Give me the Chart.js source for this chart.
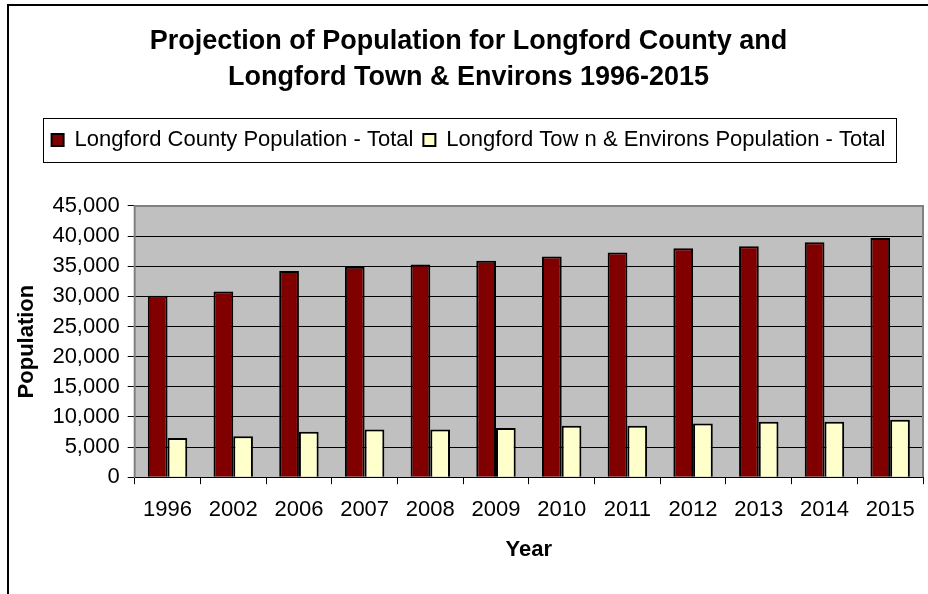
<!DOCTYPE html>
<html>
<head>
<meta charset="utf-8">
<script src="https://cdn.jsdelivr.net/npm/chart.js@4.4.1/dist/chart.umd.min.js"></script>
<style>
  html, body { margin: 0; padding: 0; background: #fff; }
  #frame { position: absolute; left: 7px; top: 4px; width: 940px; height: 610px;
           border-top: 2px solid #000; border-left: 2px solid #000; }
  #wrap { position: absolute; left: 0; top: 0; width: 928px; height: 594px; }
</style>
</head>
<body>
<div id="frame"></div>
<div id="wrap"><canvas id="myChart" width="928" height="594"></canvas></div>
<script>
const years = ['1996', '2002', '2006', '2007', '2008', '2009', '2010', '2011', '2012', '2013', '2014', '2015'];
const countyTotal = [30100, 30800, 34200, 34900, 35300, 35900, 36600, 37300, 38000, 38300, 39000, 39700];
const townTotal = [6500, 6800, 7550, 7900, 7900, 8150, 8550, 8550, 8900, 9200, 9200, 9550];

const FONT = "'Liberation Sans', Arial, sans-serif";

// grey plot background + frame, and the box round the legend
const plotStyle = {
  id: 'plotStyle',
  beforeInit(chart) {
    // leave some room under the legend, like the original
    const fit = chart.legend.fit;
    chart.legend.fit = function () {
      fit.call(chart.legend);
      this.height += 45;
    };
  },
  beforeDraw(chart) {
    const a = chart.chartArea;
    const ctx = chart.ctx;
    ctx.save();
    ctx.fillStyle = '#c0c0c0';
    ctx.fillRect(a.left, a.top, a.right - a.left, a.bottom - a.top);
    ctx.restore();
  },
  afterDraw(chart) {
    const a = chart.chartArea;
    const ctx = chart.ctx;
    ctx.save();
    ctx.strokeStyle = '#808080';
    ctx.lineWidth = 2;
    ctx.beginPath();
    ctx.moveTo(a.left, a.bottom);
    ctx.lineTo(a.left, a.top);
    ctx.lineTo(a.right, a.top);
    ctx.lineTo(a.right, a.bottom);
    ctx.stroke();
    // legend box
    const hb = chart.legend.legendHitBoxes;
    if (hb && hb.length) {
      const x0 = hb[0].left - 9;
      const last = hb[hb.length - 1];
      const x1 = last.left + last.width + 10;
      const y0 = hb[0].top - 11;
      const y1 = hb[0].top + hb[0].height + 11;
      ctx.strokeStyle = '#000';
      ctx.lineWidth = 1;
      ctx.strokeRect(Math.round(x0) + 0.5, Math.round(y0) + 0.5, Math.round(x1 - x0), Math.round(y1 - y0));
    }
    ctx.restore();
  }
};

var ctx = document.getElementById('myChart').getContext('2d');
var chart = new Chart(ctx, {
  type: 'bar',
  data: {
    labels: years,
    datasets: [
      {
        label: 'Longford County Population - Total',
        data: countyTotal,
        backgroundColor: '#800000',
        borderColor: '#000',
        borderWidth: 2,
        categoryPercentage: 0.6,
        barPercentage: 1
      },
      {
        label: 'Longford Tow n & Environs Population - Total',
        data: townTotal,
        backgroundColor: '#ffffcc',
        borderColor: '#000',
        borderWidth: 2,
        categoryPercentage: 0.6,
        barPercentage: 1
      }
    ]
  },
  options: {
    responsive: false,
    animation: false,
    layout: { padding: { left: 14, right: 5, top: 8, bottom: 31 } },
    plugins: {
      title: {
        display: true,
        text: ['Projection of Population for Longford County and', 'Longford Town & Environs 1996-2015'],
        color: '#000',
        font: { family: FONT, size: 27, weight: 'bold', lineHeight: 1.333 },
        padding: { top: 16, bottom: 23 }
      },
      legend: {
        position: 'top',
        labels: {
          color: '#000',
          font: { family: FONT, size: 22 },
          boxWidth: 12,
          boxHeight: 12,
          padding: 10,
          useBorderRadius: false
        }
      },
      tooltip: { enabled: false }
    },
    scales: {
      x: {
        grid: { drawOnChartArea: false, offset: true, color: '#000', tickLength: 7 },
        border: { color: '#000', width: 1 },
        ticks: { color: '#000', font: { family: FONT, size: 22 }, padding: 13, maxRotation: 0, autoSkip: false },
        title: { display: true, text: 'Year', color: '#000', font: { family: FONT, size: 22, weight: 'bold' }, padding: { top: 0, bottom: 0 } }
      },
      y: {
        min: 0,
        max: 45000,
        ticks: {
          stepSize: 5000,
          autoSkip: false,
          color: '#000',
          font: { family: FONT, size: 22 },
          padding: 8,
          callback: (v) => v.toLocaleString('en-US')
        },
        grid: { color: '#000', tickLength: 7 },
        border: { color: '#808080', width: 1 },
        title: { display: true, text: 'Population', color: '#000', font: { family: FONT, size: 22, weight: 'bold' }, padding: { top: 0, bottom: 4 } }
      }
    }
  },
  plugins: [plotStyle]
});
</script>
</body>
</html>
